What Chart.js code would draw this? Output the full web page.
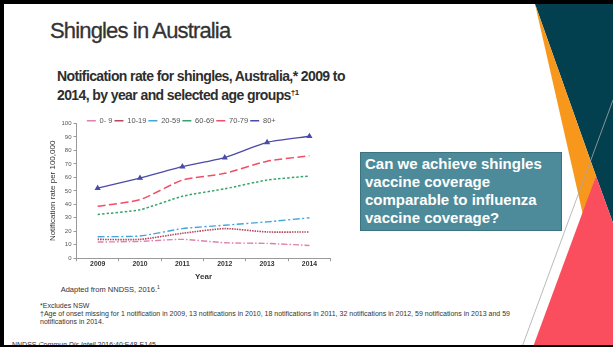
<!DOCTYPE html>
<html>
<head>
<meta charset="utf-8">
<script src="https://cdn.jsdelivr.net/npm/chart.js"></script>
<style>
  html, body { margin: 0; padding: 0; }
  body {
    width: 613px; height: 347px; position: relative; overflow: hidden;
    background: #fff; font-family: "Liberation Sans", Arial, sans-serif; color: #333;
  }
  .frame { position: absolute; background: #000; }
  .txt { position: absolute; white-space: nowrap; line-height: 1; }
  #deco { position: absolute; left: 0; top: 0; }
  #title { left: 50px; top: 19.7px; font-size: 22px; letter-spacing: -0.85px; color: #333;
    -webkit-text-stroke: 0.3px #333; }
  #subtitle { left: 57px; top: 67px; font-size: 14px; line-height: 19px; font-weight: bold;
    letter-spacing: -0.6px; color: #2e2e2e; }
  #subtitle sup { font-size: 8px; vertical-align: 5px; line-height: 0; }
  #question {
    position: absolute; left: 360px; top: 152px; width: 202px; height: 79px; box-sizing: border-box;
    background: #4e8b9a; border: 1px solid #3d7281; color: #fff; font-weight: bold;
    font-size: 15px; line-height: 18.3px; padding: 1.6px 0 0 4px; white-space: nowrap;
  }
  #chart { position: absolute; left: 30px; top: 104px; }
  .note { font-size: 7px; color: #333; }
  .note sup { font-size: 5px; vertical-align: 3px; line-height: 0; }
</style>
</head>
<body>
<svg id="deco" width="613" height="347">
  <polygon points="535,4 613,4 613,223 596,176" fill="#02404f"/>
  <polygon points="535,4 596,176 583,215" fill="#f7981d"/>
  <polygon points="596,176 613,223 613,347 533,347" fill="#fa4e5f"/>
  <line x1="613" y1="100" x2="522" y2="347" stroke="#a8a8a8" stroke-width="0.8"/>
</svg>

<div class="txt" id="title">Shingles in Australia</div>
<div class="txt" id="subtitle">Notification rate for shingles, Australia,* 2009 to<br>2014, by year and selected age groups<sup>†1</sup></div>

<div id="question">Can we achieve shingles<br>vaccine coverage<br>comparable to influenza<br>vaccine coverage?</div>

<canvas id="chart" width="306" height="179"></canvas>

<div class="txt note" style="left:60.7px; top:286.3px; font-size:7.5px;">Adapted from NNDSS, 2016.<sup>1</sup></div>
<div class="txt note" style="left:40px; top:301.7px;">*Excludes NSW</div>
<div class="txt note" style="left:40px; top:310px;">†Age of onset missing for 1 notification in 2009, 13 notifications in 2010, 18 notifications in 2011, 32 notifications in 2012, 59 notifications in 2013 and 59</div>
<div class="txt note" style="left:40px; top:318.3px;">notifications in 2014.</div>
<div class="txt note" style="left:12px; top:340.6px;">NNDSS <i>Commun Dis Intell</i> 2016;40:E48-E145.</div>

<div class="frame" style="left:0; top:0; width:613px; height:4px;"></div>
<div class="frame" style="left:0; top:0; width:4px; height:347px;"></div>
<div class="frame" style="left:0; top:345px; width:613px; height:2px;"></div>

<script>
// notification rate per 100,000, by age group
const years = ["2009", "2010", "2011", "2012", "2013", "2014"];
const age0to9 = [12, 12.5, 14, 11.5, 11, 9.5];
const age10to19 = [14, 14, 18.5, 22, 19.5, 19.5];
const age20to59 = [16, 16.5, 22, 24.5, 27, 30];
const age60to69 = [32.5, 36, 46, 51.5, 58, 61];
const age70to79 = [38.5, 43.5, 58, 63, 72, 76];
const age80plus = [52, 59.5, 68, 74.7, 86, 90.5];

const axisGrey = "#9a9a9a";

const series = (label, data, color, dash, width) => ({
  label: label,
  data: data,
  borderColor: color,
  backgroundColor: color,
  borderDash: dash,
  borderWidth: width,
  pointRadius: 0,
  tension: 0.2,
  fill: false,
});

const oldest = series("80+", age80plus, "#4b4ba8", [], 1.4);
oldest.pointRadius = 2.2;
oldest.pointStyle = "triangle";

// legend sits right on top of the plot, so pull it down after layout
const dropLegend = {
  id: "dropLegend",
  afterLayout(chart) {
    chart.legend.top += 11;
    chart.legend.bottom += 11;
  },
};

new Chart(document.querySelector("#chart"), {
  type: "line",
  data: {
    labels: years,
    datasets: [
      series("0- 9", age0to9, "#e07fb0", [6, 2, 1.5, 2], 1.4),
      series("10-19", age10to19, "#b5485d", [1.5, 1], 1.6),
      series("20-59", age20to59, "#3ea5dd", [7, 2.5, 2, 2.5], 1.4),
      series("60-69", age60to69, "#38a46a", [2.5, 2], 1.5),
      series("70-79", age70to79, "#f24d64", [8, 3.5], 1.5),
      oldest,
    ],
  },
  plugins: [dropLegend],
  options: {
    responsive: false,
    animation: false,
    devicePixelRatio: 1,
    layout: { padding: { left: 0, right: 3.5, top: 0, bottom: 1 } },
    plugins: {
      tooltip: { enabled: false },
      legend: {
        position: "top",
        align: "center",
        labels: {
          usePointStyle: true,
          pointStyleWidth: 9,
          padding: 2,
          color: "#555",
          font: { family: "Liberation Sans", size: 7.5 },
          generateLabels: (chart) =>
            Chart.defaults.plugins.legend.labels
              .generateLabels(chart)
              .map((item) => ({ ...item, pointStyle: "line" })),
        },
      },
    },
    scales: {
      x: {
        offset: true,
        grid: { display: true, offset: true, drawOnChartArea: false, tickLength: 3, color: axisGrey },
        border: { color: axisGrey },
        ticks: { padding: -1, color: "#333", font: { family: "Liberation Sans", size: 6.8, weight: "bold" } },
        title: {
          display: true,
          text: "Year",
          color: "#333",
          padding: { top: 5, bottom: 0 },
          font: { family: "Liberation Sans", size: 8, weight: "bold" },
        },
      },
      y: {
        min: 0,
        max: 100,
        afterFit: (scale) => { scale.width = 46.5; },
        grid: { display: true, drawOnChartArea: false, tickLength: 3, color: axisGrey },
        border: { color: axisGrey },
        ticks: { stepSize: 10, padding: 2, color: "#555", font: { family: "Liberation Sans", size: 6 } },
        title: {
          display: true,
          text: "Notification rate per 100,000",
          color: "#333",
          padding: { top: 17.5, bottom: 0 },
          font: { family: "Liberation Sans", size: 8 },
        },
      },
    },
  },
});
</script>
</body>
</html>
